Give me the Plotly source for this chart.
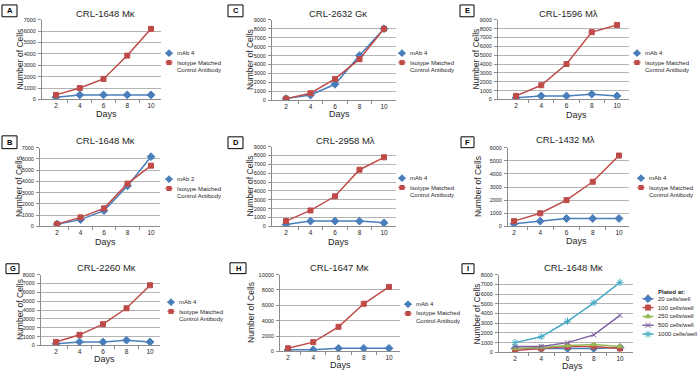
import plotly.graph_objects as go

W, H = 700, 377
FONT = "Liberation Sans"

days = [2, 4, 6, 8, 10]
day_labels = ["2", "4", "6", "8", "10"]

# ---- data ----
a_title = "CRL-1648 Mκ"
a_mab = [200, 400, 400, 400, 400]
a_iso = [400, 1000, 1800, 3850, 6200]

b_title = "CRL-1648 Mκ"
b_mab = [200, 600, 1400, 3600, 6200]
b_iso = [200, 800, 1600, 3800, 5400]

c_title = "CRL-2632 Gκ"
c_mab = [200, 600, 1800, 5000, 8000]
c_iso = [200, 800, 2400, 4600, 8000]

d_title = "CRL-2958 Mλ"
d_mab = [200, 600, 600, 600, 400]
d_iso = [600, 1800, 3400, 6400, 7800]

e_title = "CRL-1596 Mλ"
e_mab = [200, 400, 400, 600, 400]
e_iso = [400, 1600, 4000, 7600, 8400]

f_title = "CRL-1432 Mλ"
f_mab = [200, 400, 600, 600, 600]
f_iso = [400, 1000, 2000, 3400, 5400]

g_title = "CRL-2260 Mκ"
g_mab = [200, 400, 400, 600, 400]
g_iso = [400, 1200, 2400, 4200, 6800]

h_title = "CRL-1647 Mκ"
h_mab = [200, 200, 400, 400, 400]
h_iso = [400, 1200, 3200, 6200, 8400]

i_title = "CRL-1648 Mκ"
i_names = ["20 cells/well", "100 cells/well", "250 cells/well", "500 cells/well", "1000 cells/well"]
i_20 = [400, 400, 400, 400, 500]
i_100 = [200, 400, 600, 600, 400]
i_250 = [400, 500, 700, 800, 600]
i_500 = [600, 600, 1000, 1800, 3800]
i_1000 = [1000, 1600, 3200, 5100, 7200]

iso_name = "Isotype Matched Control Antibody"
y_title = "Number of Cells"
x_title = "Days"

# ---- styles ----
BLUE = "#4A7EBB"
RED = "#BE4B48"
GREEN = "#98B954"
PURPLE = "#7D60A0"
CYAN = "#46AAC5"
GRID = "#B4B4B4"
AXIS = "#8C8C8C"
TXT = "#262626"

# panels: letter, title, series list, ymax, dtick, geometry
# geometry: left, right, top, bottom, p2, p10 (px), title (cx, cy), ytitle x, days (x, y), legend (x, y), box
panels = [
    ("A", a_title, [("mAb 4", a_mab), (iso_name, a_iso)], 7000, 1000,
     (42, 161, 17, 98, 56, 151), (105, 11), 20, (106, 113), (169, 51), (2, 2, 17, 14)),
    ("C", c_title, [("mAb 4", c_mab), (iso_name, c_iso)], 9000, 1000,
     (272, 396, 17, 99, 286, 384), (338, 11), 250, (339, 113), (402, 51), (228, 2, 243, 14)),
    ("E", e_title, [("mAb 4", e_mab), (iso_name, e_iso)], 9000, 1000,
     (498, 629, 17, 98, 516, 617), (568, 11), 476, (576, 114), (637, 51), (460, 2, 474, 14)),
    ("B", b_title, [("mAb 2", b_mab), (iso_name, b_iso)], 7000, 1000,
     (40, 160, 147, 227, 57, 151), (105, 140), 19, (105, 243), (169, 179), (2, 135, 17, 148)),
    ("D", d_title, [("mAb 4", d_mab), (iso_name, d_iso)], 9000, 1000,
     (272, 396, 146, 227, 286, 384), (345, 140), 250, (338, 243), (402, 178), (228, 136, 243, 148)),
    ("F", f_title, [("mAb 4", f_mab), (iso_name, f_iso)], 6000, 1000,
     (508, 629, 147, 227, 514, 619), (565, 139), 478, (576, 242), (641, 178), (461, 136, 474, 147)),
    ("G", g_title, [("mAb 4", g_mab), (iso_name, g_iso)], 8000, 1000,
     (41, 160, 276, 348, 56, 150), (106, 269), 20, (104, 362), (171, 304), (6, 265, 19, 275)),
    ("H", h_title, [("mAb 4", h_mab), (iso_name, h_iso)], 10000, 2000,
     (280, 400, 276, 354, 288, 389), (339, 269), 251, (340, 368), (408, 306), (230, 264, 246, 275)),
    ("I", i_title, [(i_names[0], i_20), (i_names[1], i_100), (i_names[2], i_250),
                    (i_names[3], i_500), (i_names[4], i_1000)], 8000, 1000,
     (499, 633, 276, 355, 515, 620), (573, 269), 477, (572, 369), (648, 294), (462, 265, 474, 275)),
]

STYLES = [(BLUE, "diamond", 6), (RED, "square", 5), (GREEN, "triangle-up", 5),
          (PURPLE, "x-thin-open", 5), (CYAN, "asterisk-open", 6)]


def px(x):
    return x / W


def py(y):
    return 1 - y / H


fig = go.Figure()
annotations = []
shapes = []
layout = {}

LEG_AX = 10  # overlay axis for legend keys, in pixel units
LEG_SIZE = 6

for k, (letter, title, series, ymax, dtick, geo, tpos, ytx, dpos, lpos, box) in enumerate(panels, start=1):
    left, right, top, bottom, p2, p10 = geo
    step = (p10 - p2) / 8.0
    xlo = 2 - (p2 - left) / step
    xhi = 10 + (right - p10) / step
    xa = "x" if k == 1 else f"x{k}"
    ya = "y" if k == 1 else f"y{k}"
    layout["xaxis" if k == 1 else f"xaxis{k}"] = dict(
        domain=[px(left), px(right)], anchor=ya, range=[xlo, xhi],
        tickmode="array", tickvals=days, ticktext=day_labels, ticks="",
        showgrid=False, zeroline=False, showline=True, linecolor=AXIS, linewidth=1,
        tickfont=dict(family=FONT, size=6.5, color=TXT), ticklabelstandoff=0,
        minor=dict(tickmode="array", tickvals=[3, 5, 7, 9], ticks="outside", ticklen=3,
                   tickcolor=AXIS, showgrid=False),
        fixedrange=True,
    )
    layout["yaxis" if k == 1 else f"yaxis{k}"] = dict(
        domain=[py(bottom), py(top)], anchor=xa, range=[0, ymax], dtick=dtick, tick0=0,
        tickformat="d", showgrid=True, gridcolor=GRID, gridwidth=0.8, zeroline=False,
        showline=True, linecolor=AXIS, linewidth=1, ticks="outside", ticklen=3, tickcolor=AXIS,
        tickfont=dict(family=FONT, size=5.5, color=TXT), ticklabelstandoff=1, fixedrange=True,
    )
    for j, (name, vals) in enumerate(series):
        color, sym, msz = STYLES[j]
        fig.add_trace(go.Scatter(
            x=days, y=vals, name=name, mode="lines+markers", xaxis=xa, yaxis=ya,
            line=dict(color=color, width=1.5),
            marker=dict(symbol=sym, size=msz, color=color, line=dict(color=color, width=1)),
            showlegend=False,
        ))

    # title
    annotations.append(dict(text=title, x=px(tpos[0]), y=py(tpos[1]), xref="paper", yref="paper",
                            showarrow=False, xanchor="center", yanchor="middle",
                            font=dict(family=FONT, size=9.5, color=TXT)))
    # y title
    annotations.append(dict(text=y_title, x=px(ytx), y=py((top + bottom) / 2), xref="paper", yref="paper",
                            showarrow=False, textangle=-90, xanchor="center", yanchor="middle",
                            font=dict(family=FONT, size=8.5, color=TXT)))
    # x title
    annotations.append(dict(text=x_title, x=px(dpos[0]), y=py(dpos[1]), xref="paper", yref="paper",
                            showarrow=False, xanchor="center", yanchor="middle",
                            font=dict(family=FONT, size=9, color=TXT)))
    # panel letter box
    bx0, by0, bx1, by1 = box
    shapes.append(dict(type="rect", xref="paper", yref="paper", x0=px(bx0), x1=px(bx1),
                       y0=py(by1), y1=py(by0), line=dict(color="#000000", width=1),
                       fillcolor="white"))
    annotations.append(dict(text=f"<b>{letter}</b>", x=px((bx0 + bx1) / 2), y=py((by0 + by1) / 2),
                            xref="paper", yref="paper", showarrow=False, xanchor="center",
                            yanchor="middle", font=dict(family=FONT, size=7.5, color="#000")))

    # legend (manual, compact like the original)
    lx, ly = lpos
    if letter != "I":
        rows = [(ly, 0), (ly + 9.5, 1)]
        for ry, j in rows:
            color, sym, msz = STYLES[j]
            fig.add_trace(go.Scatter(
                x=[lx - 3.5, lx + 3.5], y=[ry, ry], mode="lines", xaxis=f"x{LEG_AX}", yaxis=f"y{LEG_AX}",
                line=dict(color=color, width=1.5), showlegend=False, hoverinfo="skip"))
            fig.add_trace(go.Scatter(
                x=[lx], y=[ry], mode="markers", xaxis=f"x{LEG_AX}", yaxis=f"y{LEG_AX}",
                marker=dict(symbol=sym, size=msz, color=color), showlegend=False, hoverinfo="skip"))
        annotations.append(dict(text=series[0][0], x=px(lx + 6), y=py(ly), xref="paper", yref="paper",
                                showarrow=False, xanchor="left", yanchor="middle",
                                font=dict(family=FONT, size=LEG_SIZE, color=TXT)))
        annotations.append(dict(text="Isotype Matched", x=px(lx + 6), y=py(ly + 9.5), xref="paper",
                                yref="paper", showarrow=False, xanchor="left", yanchor="middle",
                                font=dict(family=FONT, size=LEG_SIZE, color=TXT)))
        annotations.append(dict(text="Control Antibody", x=px(lx + 6), y=py(ly + 17.5), xref="paper",
                                yref="paper", showarrow=False, xanchor="left", yanchor="middle",
                                font=dict(family=FONT, size=LEG_SIZE, color=TXT)))
    else:
        annotations.append(dict(text="<b>Plated at:</b>", x=px(lx + 8), y=py(ly), xref="paper",
                                yref="paper", showarrow=False, xanchor="left", yanchor="middle",
                                font=dict(family=FONT, size=LEG_SIZE, color=TXT)))
        for j, (name, vals) in enumerate(series):
            ry = ly + 6.5 + 9 * j
            color, sym, msz = STYLES[j]
            fig.add_trace(go.Scatter(
                x=[lx - 5.5, lx + 5.5], y=[ry, ry], mode="lines", xaxis=f"x{LEG_AX}", yaxis=f"y{LEG_AX}",
                line=dict(color=color, width=1.5), showlegend=False, hoverinfo="skip"))
            fig.add_trace(go.Scatter(
                x=[lx], y=[ry], mode="markers", xaxis=f"x{LEG_AX}", yaxis=f"y{LEG_AX}",
                marker=dict(symbol=sym, size=msz, color=color, line=dict(color=color, width=1)),
                showlegend=False, hoverinfo="skip"))
            annotations.append(dict(text=name, x=px(lx + 8), y=py(ry), xref="paper", yref="paper",
                                    showarrow=False, xanchor="left", yanchor="middle",
                                    font=dict(family=FONT, size=LEG_SIZE, color=TXT)))

layout[f"xaxis{LEG_AX}"] = dict(domain=[0, 1], range=[0, W], visible=False, anchor=f"y{LEG_AX}",
                                fixedrange=True)
layout[f"yaxis{LEG_AX}"] = dict(domain=[0, 1], range=[H, 0], visible=False, anchor=f"x{LEG_AX}",
                                fixedrange=True)

fig.update_layout(
    width=W, height=H, margin=dict(l=0, r=0, t=0, b=0),
    paper_bgcolor="white", plot_bgcolor="rgba(0,0,0,0)",
    showlegend=False, annotations=annotations, shapes=shapes,
    font=dict(family=FONT, color=TXT),
    **layout,
)

fig.write_html(
    "out.html",
    config={"displayModeBar": False},
    post_script="document.body.style.margin='0';document.body.style.padding='0';",
)
